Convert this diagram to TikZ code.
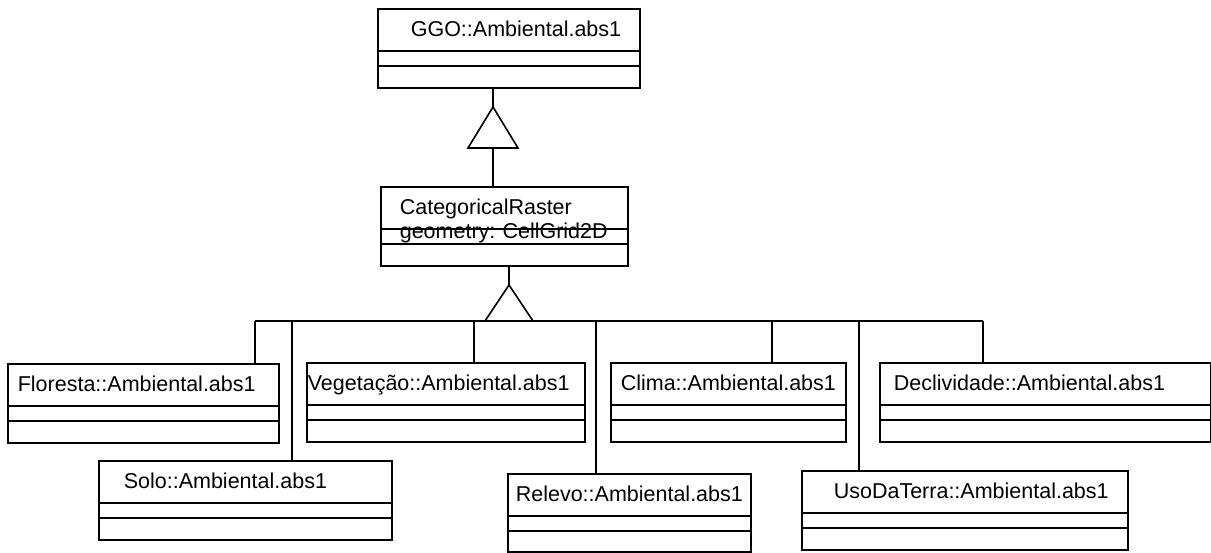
\documentclass[tikz,border=0pt]{standalone}
\usepackage{fontspec}
\setmainfont{Liberation Sans}

\begin{document}
\begin{tikzpicture}[x=1pt, y=-1pt,
  umlclass/.style={draw, line width=1.6pt, anchor=north west, align=left,
    inner ysep=0pt, text height=28pt, text depth=51pt,
    font=\fontsize{21.5}{24}\selectfont\frenchspacing,
    path picture={
      \draw[line width=1.6pt] ([yshift=-42pt]path picture bounding box.north west)
        -- ([yshift=-42pt]path picture bounding box.north east);
      \draw[line width=1.6pt] ([yshift=-57pt]path picture bounding box.north west)
        -- ([yshift=-57pt]path picture bounding box.north east);}},
  link/.style={line width=1.6pt},
  gen/.style={line width=1.6pt, fill=white, line join=miter}
]
\useasboundingbox (0,0) rectangle (1211,553);

% classes
\node[umlclass, inner xsep=33pt, text width=196pt] (ggo) at (377,8) {GGO::Ambiental.abs1};
\node[umlclass, inner xsep=19pt, text width=209pt] (cat) at (380,186)
  {CategoricalRaster\\geometry: CellGrid2D};

\node[umlclass, inner xsep=10pt, text width=251pt] (flo) at (7,363) {Floresta::Ambiental.abs1};
\node[umlclass, inner xsep=1pt, text width=276pt] (veg) at (306,362) {Vegetação::Ambiental.abs1};
\node[umlclass, inner xsep=10pt, text width=215pt] (cli) at (610,362) {Clima::Ambiental.abs1};
\node[umlclass, inner xsep=14pt, text width=303pt] (dec) at (879,362) {Declividade::Ambiental.abs1};
\node[umlclass, inner xsep=25pt, text width=243pt] (sol) at (98,460) {Solo::Ambiental.abs1};
\node[umlclass, inner xsep=8pt, text width=227pt, text depth=50pt] (rel) at (507,473) {Relevo::Ambiental.abs1};
\node[umlclass, inner xsep=32pt, text width=262pt] (uso) at (801,470) {UsoDaTerra::Ambiental.abs1};

% generalization CategoricalRaster -> GGO
\coordinate (tip1) at (493,107);
\draw[link] (ggo.south -| tip1) -- (tip1);
\draw[gen] (tip1) -- ++(-25,41) -- ++(50,0) -- cycle;
\draw[link] ([yshift=-41pt]tip1) -- (cat.north -| tip1);

% generalization of the subclasses
\coordinate (tip2) at (509,285);
\draw[link] (cat.south -| tip2) -- (tip2);
\draw[gen] (tip2) -- ++(-24,36) -- ++(48,0) -- cycle;

\coordinate (busL) at (255,321);
\coordinate (busR) at (983,321);
\draw[link] (busL) -- (busR);
\foreach \cls/\tap in {flo/255, sol/292, veg/474, rel/596, cli/772, uso/859, dec/983}
  \draw[link] (\tap,321) -- (\tap,321 |- \cls.north);
\end{tikzpicture}
\end{document}
